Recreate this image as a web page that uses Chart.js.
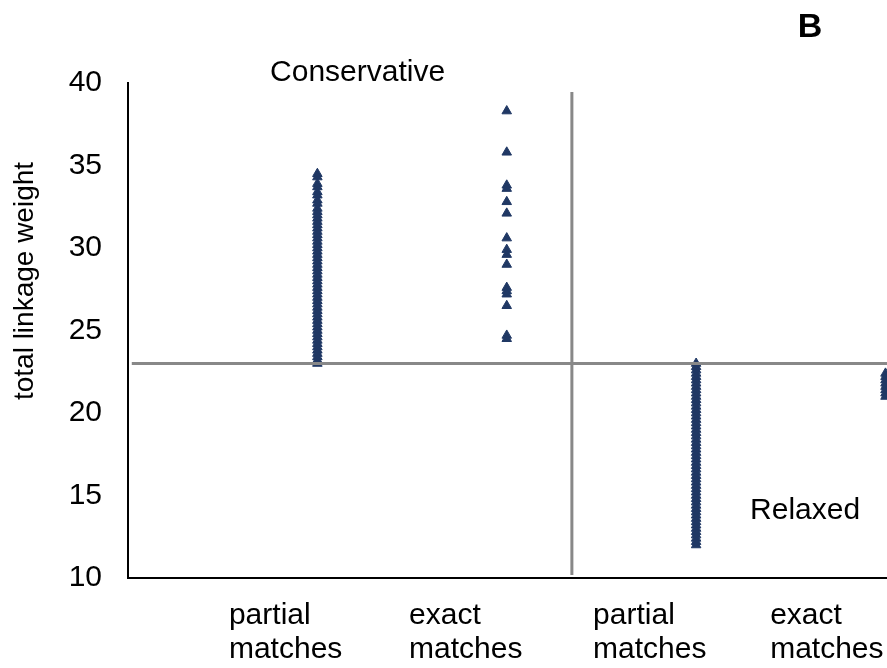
<!DOCTYPE html>
<html>
<head>
<meta charset="utf-8">
<script src="https://cdn.jsdelivr.net/npm/chart.js@4/dist/chart.umd.min.js"></script>
<style>
  html, body { margin: 0; padding: 0; background: #ffffff; }
  #wrap { width: 887px; height: 668px; position: relative; }
</style>
</head>
<body>
<div id="wrap"><canvas id="chart" width="887" height="668"></canvas></div>
<script>
// Category labels under the x axis and where each one starts
const groupLabels = [['partial', 'matches'], ['exact', 'matches'], ['partial', 'matches'], ['exact', 'matches']];
const labelPositions = [0.533, 1.484, 2.456, 3.391];
const yTicks = [10, 15, 20, 25, 30, 35, 40];

// Column positions of the four groups
const groupX = [1, 2, 3, 4];

// Total linkage weight per linked pair
const conservativePartial = [34.5, 34.3, 33.9, 33.7, 33.4, 33.2, 32.9, 32.7, 32.4, 32.2, 32.0, 31.8, 31.6, 31.4,
  31.2, 31.0, 30.8, 30.6, 30.4, 30.2, 30.0, 29.8, 29.6, 29.4, 29.2, 29.0, 28.8, 28.6, 28.4, 28.2, 28.0, 27.8,
  27.6, 27.4, 27.2, 27.0, 26.8, 26.6, 26.4, 26.2, 26.0, 25.8, 25.6, 25.4, 25.2, 25.0, 24.8, 24.6, 24.4, 24.2,
  24.0, 23.8, 23.6, 23.4, 23.2, 23.0];
const conservativeExact = [38.3, 35.8, 33.8, 33.6, 32.8, 32.1, 30.6, 29.9, 29.6, 29.0, 27.6, 27.4, 27.2, 26.5, 24.7, 24.5];
const relaxedPartial = [23.0, 22.8, 22.6, 22.4, 22.2, 22.0, 21.8, 21.6, 21.4, 21.2, 21.0, 20.8, 20.6, 20.4, 20.2,
  20.0, 19.8, 19.6, 19.4, 19.2, 19.0, 18.8, 18.6, 18.4, 18.2, 18.0, 17.8, 17.6, 17.4, 17.2, 17.0, 16.8, 16.6,
  16.4, 16.2, 16.0, 15.8, 15.6, 15.4, 15.2, 15.0, 14.8, 14.6, 14.4, 14.2, 14.0, 13.8, 13.6, 13.4, 13.2, 13.0,
  12.8, 12.6, 12.4, 12.2, 12.0];
const relaxedExact = [22.4, 22.2, 22.0, 21.8, 21.6, 21.4, 21.2, 21.0];

// Threshold separating conservative from relaxed links, and the divider between the two halves
const thresholdWeight = 23;
const thresholdSpan = [0.02, 4.008];
const dividerX = 2.344;
const dividerSpan = [39.45, 10.18];

const FONT = '"Liberation Sans", Arial, sans-serif';
const MARK = '#203864';
const RULE = '#888888';

const column = (x, values) => values.map(v => ({ x: x, y: v }));

const scatterStyle = {
  pointStyle: 'triangle',
  pointRadius: 5.5,
  pointHoverRadius: 5.5,
  backgroundColor: MARK,
  borderColor: MARK,
  borderWidth: 1,
  showLine: false
};

// Free text placed on the chart: region names, panel letter and y axis title
const annotations = {
  id: 'annotations',
  afterDraw(chart) {
    const { ctx, scales: { x, y } } = chart;
    ctx.save();
    ctx.fillStyle = '#000';
    ctx.textBaseline = 'alphabetic';
    ctx.textAlign = 'left';
    ctx.font = '30px ' + FONT;
    ctx.fillText('Conservative', x.getPixelForValue(0.75), y.getPixelForValue(40.12));
    ctx.fillText('Relaxed', x.getPixelForValue(3.285), y.getPixelForValue(13.58));

    ctx.font = 'bold 34px ' + FONT;
    ctx.textAlign = 'center';
    ctx.fillText('B', 810, 37);

    ctx.font = '28px ' + FONT;
    ctx.textBaseline = 'middle';
    ctx.translate(25, 281);
    ctx.rotate(-Math.PI / 2);
    ctx.fillText('total linkage weight', 0, 0);
    ctx.restore();
  }
};

new Chart(document.getElementById('chart'), {
  type: 'scatter',
  data: {
    datasets: [
      {
        type: 'line',
        data: thresholdSpan.map(v => ({ x: v, y: thresholdWeight })),
        borderColor: RULE, borderWidth: 3, pointRadius: 0, fill: false
      },
      {
        type: 'line',
        data: dividerSpan.map(v => ({ x: dividerX, y: v })),
        borderColor: RULE, borderWidth: 3, pointRadius: 0, fill: false
      },
      Object.assign({ data: column(groupX[0], conservativePartial) }, scatterStyle),
      Object.assign({ data: column(groupX[1], conservativeExact) }, scatterStyle),
      Object.assign({ data: column(groupX[2], relaxedPartial) }, scatterStyle),
      Object.assign({ data: column(groupX[3], relaxedExact) }, scatterStyle)
    ]
  },
  options: {
    responsive: false,
    animation: false,
    events: [],
    layout: { autoPadding: false, padding: { top: 83, left: 0, right: 0, bottom: 0 } },
    plugins: { legend: { display: false }, tooltip: { enabled: false } },
    scales: {
      x: {
        type: 'linear',
        min: 0,
        max: 4.008,
        grid: { display: false, drawTicks: false },
        border: { display: true, color: '#000', width: 2 },
        afterBuildTicks: s => { s.ticks = labelPositions.map(v => ({ value: v })); },
        afterFit: s => { s.height = 90; s.paddingLeft = 0; s.paddingRight = 0; },
        ticks: {
          autoSkip: false,
          maxRotation: 0,
          minRotation: 0,
          align: 'start',
          padding: 20,
          color: '#000',
          font: { family: FONT, size: 30, lineHeight: 1.15 },
          callback: (v, i) => groupLabels[i]
        }
      },
      y: {
        type: 'linear',
        min: 10,
        max: 40,
        grid: { display: false, drawTicks: false },
        border: { display: true, color: '#000', width: 2 },
        afterBuildTicks: s => { s.ticks = yTicks.map(v => ({ value: v })); },
        afterFit: s => { s.width = 128; },
        ticks: {
          padding: 26,
          color: '#000',
          font: { family: FONT, size: 30 },
          callback: v => String(v)
        }
      }
    }
  },
  plugins: [annotations]
});
</script>
</body>
</html>
